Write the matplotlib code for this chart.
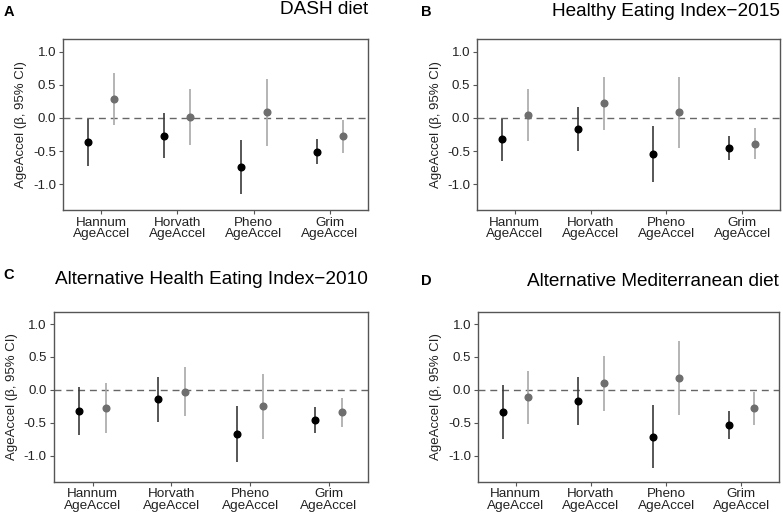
import matplotlib
matplotlib.use("Agg")
import matplotlib.pyplot as plt
import numpy as np

plt.rcParams['font.family'] = ['Liberation Sans', 'DejaVu Sans']

clocks = ["Hannum\nAgeAccel", "Horvath\nAgeAccel", "Pheno\nAgeAccel", "Grim\nAgeAccel"]
yticks = [-1.0, -0.5, 0.0, 0.5, 1.0]

panel_labels = ["A", "B", "C", "D"]
titles = ["DASH diet", "Healthy Eating Index\u22122015",
          "Alternative Health Eating Index\u22122010", "Alternative Mediterranean diet"]

# black series (est, lower, upper) per clock
A_black_est = [-0.37, -0.27, -0.74, -0.51]
A_black_lo = [-0.72, -0.60, -1.15, -0.69]
A_black_hi = [-0.01, 0.07, -0.33, -0.32]
A_gray_est = [0.28, 0.015, 0.085, -0.28]
A_gray_lo = [-0.11, -0.41, -0.43, -0.53]
A_gray_hi = [0.68, 0.43, 0.59, -0.03]

B_black_est = [-0.32, -0.17, -0.54, -0.45]
B_black_lo = [-0.65, -0.50, -0.96, -0.64]
B_black_hi = [-0.01, 0.17, -0.12, -0.28]
B_gray_est = [0.04, 0.22, 0.085, -0.39]
B_gray_lo = [-0.35, -0.19, -0.45, -0.62]
B_gray_hi = [0.43, 0.62, 0.62, -0.16]

C_black_est = [-0.32, -0.14, -0.67, -0.46]
C_black_lo = [-0.69, -0.48, -1.09, -0.65]
C_black_hi = [0.045, 0.20, -0.24, -0.26]
C_gray_est = [-0.27, -0.03, -0.25, -0.34]
C_gray_lo = [-0.65, -0.40, -0.75, -0.56]
C_gray_hi = [0.11, 0.35, 0.24, -0.12]

D_black_est = [-0.34, -0.17, -0.71, -0.53]
D_black_lo = [-0.74, -0.53, -1.19, -0.74]
D_black_hi = [0.075, 0.19, -0.23, -0.32]
D_gray_est = [-0.11, 0.105, 0.175, -0.28]
D_gray_lo = [-0.51, -0.32, -0.38, -0.54]
D_gray_hi = [0.29, 0.52, 0.74, -0.03]

panels = [
    (A_black_est, A_black_lo, A_black_hi, A_gray_est, A_gray_lo, A_gray_hi),
    (B_black_est, B_black_lo, B_black_hi, B_gray_est, B_gray_lo, B_gray_hi),
    (C_black_est, C_black_lo, C_black_hi, C_gray_est, C_gray_lo, C_gray_hi),
    (D_black_est, D_black_lo, D_black_hi, D_gray_est, D_gray_lo, D_gray_hi),
]

W, H = 783, 518
fig = plt.figure(figsize=(W / 100, H / 100), dpi=100)

# axes boxes in pixels: left, top, right, bottom
boxes = [(63, 39, 368, 210), (477, 39, 780, 210),
         (53.5, 311.5, 368, 481.5), (478, 311.5, 779, 481.5)]
label_pos = [(4, 12), (421, 12), (3, 275), (421, 281)]
title_y = [10, 12, 280, 282]

x = np.arange(1, 5)
off = 0.17
spine_col = "#555555"

for i, (box, data) in enumerate(zip(boxes, panels)):
    l, t, r, b = box
    ax = fig.add_axes([l / W, 1 - b / H, (r - l) / W, (b - t) / H])
    be, bl, bh, ge, gl, gh = data
    ax.axhline(0, color="#666666", lw=1.0, ls=(0, (5, 3.5)), zorder=1)
    ax.vlines(x - off, bl, bh, color="#3a3a3a", lw=1.2, zorder=2)
    ax.vlines(x + off, gl, gh, color="#a8a8a8", lw=1.2, zorder=2)
    ax.plot(x - off, be, 'o', color="black", ms=4.8, zorder=3)
    ax.plot(x + off, ge, 'o', color="#6e6e6e", ms=4.8, zorder=3)
    ax.set_xlim(0.5, 4.5)
    ax.set_ylim(-1.39, 1.19)
    ax.set_xticks(x)
    ax.set_xticklabels(clocks, fontsize=9.7, color="#222222", linespacing=0.95)
    ax.set_yticks(yticks)
    ax.set_yticklabels([f"{v:.1f}" for v in yticks], fontsize=9.5, color="#222222")
    ax.tick_params(length=3, width=0.8, color=spine_col, pad=2)
    for s in ax.spines.values():
        s.set_color(spine_col)
        s.set_linewidth(1.0)
    ax.set_ylabel("AgeAccel (\u03b2, 95% CI)", fontsize=9.5, color="#222222", labelpad=4)
    fig.text(label_pos[i][0] / W, 1 - label_pos[i][1] / H, panel_labels[i],
             fontsize=10.5, fontweight="bold", va="center", ha="left")
    fig.text(r / W, 1 - title_y[i] / H, titles[i], fontsize=13.7, va="center", ha="right")

fig.savefig("out.png", dpi=100)
